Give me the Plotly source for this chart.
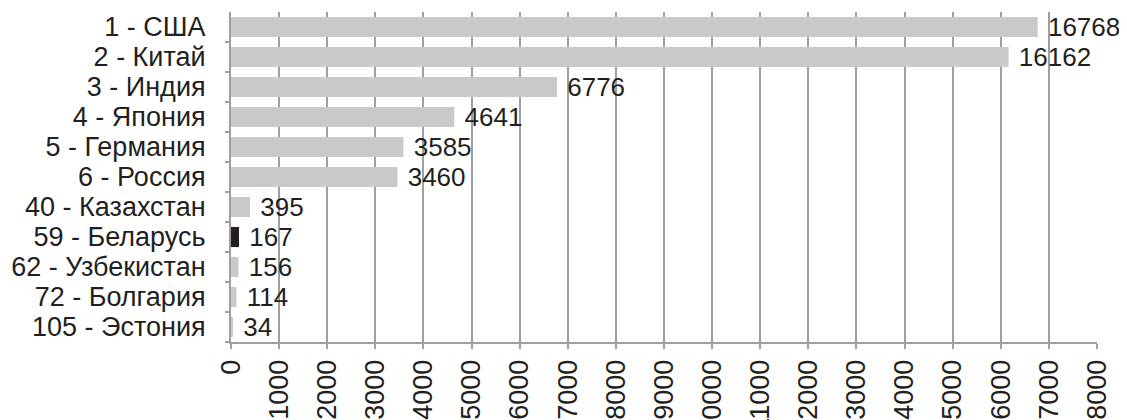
import plotly.graph_objects as go

# Данные: место в рейтинге - страна, значения
countries = [
    "1 - США", "2 - Китай", "3 - Индия", "4 - Япония", "5 - Германия",
    "6 - Россия", "40 - Казахстан", "59 - Беларусь", "62 - Узбекистан",
    "72 - Болгария", "105 - Эстония",
]
values = [16768, 16162, 6776, 4641, 3585, 3460, 395, 167, 156, 114, 34]
highlight = "59 - Беларусь"
x_ticks = list(range(0, 18001, 1000))

bar_colors = ["#231f20" if c == highlight else "#c8c9cb" for c in countries]
text_color = "#231f20"
grid_color = "#9d9fa2"
font_family = "Liberation Sans, Arial, sans-serif"

fig = go.Figure()

fig.add_trace(go.Bar(
    x=values,
    y=countries,
    orientation="h",
    marker=dict(color=bar_colors, line=dict(width=0)),
    text=[str(v) for v in values],
    texttemplate="\u00a0%{text}",
    textposition="outside",
    constraintext="none",
    cliponaxis=False,
    textfont=dict(size=26, color=text_color, family=font_family),
    showlegend=False,
))

fig.update_xaxes(
    range=[0, 18000],
    tickvals=x_ticks,
    ticktext=[str(t) for t in x_ticks],
    tickangle=-90,
    showgrid=True,
    gridcolor=grid_color,
    gridwidth=2,
    showline=True,
    linecolor=grid_color,
    linewidth=2,
    ticks="outside",
    ticklen=5,
    tickwidth=2,
    tickcolor=grid_color,
    ticklabelstandoff=0,
    tickfont=dict(size=27, color=text_color, family=font_family),
    zeroline=False,
    automargin=False,
)

# все подписи стран, без автоматического пропуска
fig.update_yaxes(
    categoryorder="array",
    categoryarray=countries[::-1],
    tickmode="array",
    tickvals=countries,
    ticktext=countries,
    tickson="boundaries",
    showgrid=False,
    showline=True,
    linecolor=grid_color,
    linewidth=2,
    ticks="outside",
    ticklen=4,
    tickwidth=2,
    tickcolor=grid_color,
    ticklabelstandoff=18,
    tickfont=dict(size=27, color=text_color, family=font_family),
    automargin=False,
)

# страница имеет отступ 8px, поэтому фигура чуть меньше окна
fig.update_layout(
    width=1119,
    height=412,
    margin=dict(l=223, r=30, t=4, b=78),
    bargap=0.33,
    paper_bgcolor="white",
    plot_bgcolor="white",
    font=dict(family=font_family, color=text_color),
)

fig.write_html("out.html")
